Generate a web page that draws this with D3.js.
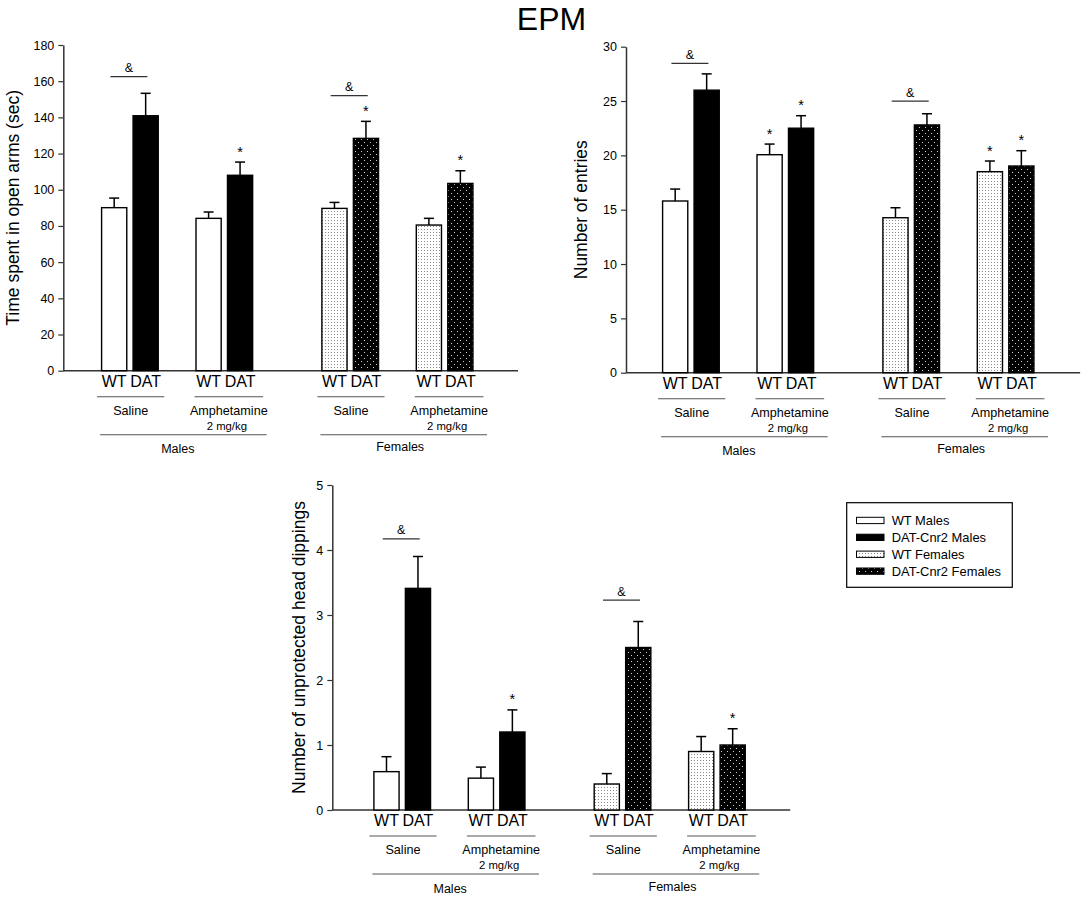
<!DOCTYPE html>
<html><head><meta charset="utf-8">
<script src="https://cdn.jsdelivr.net/npm/d3@7"></script>
<style>
body{margin:0;background:#fff}
svg{display:block}
text{font-family:"Liberation Sans",Arial,Helvetica,sans-serif;fill:#000}
</style>
</head><body>
<svg id="c" width="1084" height="900"></svg>
<script>
// ---------- data ----------
const seriesNames = ["WT Males", "DAT-Cnr2 Males", "WT Females", "DAT-Cnr2 Females"];
const barGenotype = ["WT", "DAT", "WT", "DAT", "WT", "DAT", "WT", "DAT"];
const barSeries = [0, 1, 0, 1, 2, 3, 2, 3];
const treatmentLabels = ["Saline", "Amphetamine", "Saline", "Amphetamine"];
const doseLabels = ["", "2 mg/kg", "", "2 mg/kg"];
const sexLabels = ["Males", "Females"];

const timeMeans = [90.1, 140.9, 84.2, 108.0, 89.7, 128.4, 80.5, 103.5];
const timeErr   = [5.3, 12.4, 3.5, 7.3, 3.3, 9.4, 3.7, 7.0];
const timeStars = [0, 0, 0, 1, 0, 1, 0, 1];
const timeAmp   = [{group: 0, level: 162.5}, {group: 2, level: 152}];
const timeTicks = [0, 20, 40, 60, 80, 100, 120, 140, 160, 180];

const entriesMeans = [15.8, 26.0, 20.06, 22.5, 14.26, 22.8, 18.5, 19.02];
const entriesErr   = [1.1, 1.5, 0.98, 1.15, 0.92, 1.03, 0.98, 1.41];
const entriesStars = [0, 0, 1, 1, 0, 0, 1, 1];
const entriesAmp   = [{group: 0, level: 28.47}, {group: 2, level: 25.0}];
const entriesTicks = [0, 5, 10, 15, 20, 25, 30];

const dipMeans = [0.59, 3.41, 0.49, 1.2, 0.4, 2.5, 0.9, 1.0];
const dipErr   = [0.23, 0.49, 0.17, 0.34, 0.16, 0.4, 0.23, 0.25];
const dipStars = [0, 0, 0, 1, 0, 0, 0, 1];
const dipAmp   = [{group: 0, level: 4.17}, {group: 2, level: 3.23}];
const dipTicks = [0, 1, 2, 3, 4, 5];

// ---------- layout ----------
const PITCH = 31.47;
const charts = [
  {means: timeMeans, errs: timeErr, stars: timeStars, amps: timeAmp, ticks: timeTicks,
   label: "Time spent in open arms (sec)", left: 63.3, top: 45, bottom: 370.7, domMax: 14.45, start: 1.617, labelX: 19},
  {means: entriesMeans, errs: entriesErr, stars: entriesStars, amps: entriesAmp, ticks: entriesTicks,
   label: "Number of entries", left: 626, top: 46.7, bottom: 372.7, domMax: 14.43, start: 1.563, labelX: 586.5},
  {means: dipMeans, errs: dipErr, stars: dipStars, amps: dipAmp, ticks: dipTicks,
   label: "Number of unprotected head dippings", left: 332.3, top: 485, bottom: 810, domMax: 14.55, start: 1.722, labelX: 305}
];

const svg = d3.select("#c");
const defs = svg.append("defs");

// WT females: white with fine grey dots
const p1 = defs.append("pattern").attr("id", "wtf").attr("patternUnits", "userSpaceOnUse")
  .attr("width", 3).attr("height", 3);
p1.append("rect").attr("width", 3).attr("height", 3).attr("fill", "#fff");
p1.append("rect").attr("x", 1).attr("y", 1).attr("width", 1).attr("height", 1).attr("fill", "#8a8a8a");
// DAT females: black with sparse light dots
const p2 = defs.append("pattern").attr("id", "datf").attr("patternUnits", "userSpaceOnUse")
  .attr("width", 6).attr("height", 6);
p2.append("rect").attr("width", 6).attr("height", 6).attr("fill", "#000");
p2.append("rect").attr("x", 1).attr("y", 1).attr("width", 1).attr("height", 1).attr("fill", "#d0d0d0");
p2.append("rect").attr("x", 4).attr("y", 4).attr("width", 1).attr("height", 1).attr("fill", "#d0d0d0");

const fills = ["#fff", "#000", "url(#wtf)", "url(#datf)"];

function slot(i) {
  const g = Math.floor(i / 2), m = i % 2;
  return m + 3 * g + (g >= 2 ? 1 : 0);
}

// title
svg.append("text").attr("x", 551.5).attr("y", 30).attr("text-anchor", "middle")
  .style("font-size", "32px").text("EPM");

charts.forEach(c => {
  const x = d3.scaleLinear().domain([0, c.domMax]).range([c.left, c.left + c.domMax * PITCH]);
  const y = d3.scaleLinear().domain([0, c.ticks[c.ticks.length - 1]]).range([c.bottom, c.top]);
  const y0 = y(0);
  const bw = x(0.8) - x(0);
  const cx = i => x(c.start + slot(i));
  const g = svg.append("g");

  // y axis
  const ax = g.append("g").attr("transform", `translate(${c.left},0)`)
    .call(d3.axisLeft(y).tickValues(c.ticks).tickSize(5).tickSizeOuter(0).tickPadding(4).tickFormat(d3.format("d")));
  ax.select(".domain").attr("stroke", "#333").attr("stroke-width", 1.5);
  ax.selectAll(".tick line").attr("stroke", "#333").attr("stroke-width", 1.2);
  ax.selectAll(".tick text").style("font-size", "12.5px").style("font-family", "'Liberation Sans',Arial,sans-serif").attr("fill", "#111");

  // x axis line
  g.append("line").attr("x1", x(0)).attr("x2", x(c.domMax)).attr("y1", y0).attr("y2", y0)
    .attr("stroke", "#333").attr("stroke-width", 1.5);

  // y label
  g.append("text").attr("transform", `translate(${c.labelX},${(c.top + c.bottom) / 2}) rotate(-90)`)
    .attr("text-anchor", "middle").style("font-size", "17.5px").text(c.label);

  // error bars
  c.means.forEach((v, i) => {
    const xc = cx(i);
    g.append("line").attr("x1", xc).attr("x2", xc).attr("y1", y(v)).attr("y2", y(v + c.errs[i]))
      .attr("stroke", "#000").attr("stroke-width", 1.5);
    g.append("line").attr("x1", xc - 5).attr("x2", xc + 5).attr("y1", y(v + c.errs[i])).attr("y2", y(v + c.errs[i]))
      .attr("stroke", "#000").attr("stroke-width", 1.5);
  });

  // bars
  g.selectAll("rect.bar").data(c.means).enter().append("rect").attr("class", "bar")
    .attr("x", (d, i) => cx(i) - bw / 2).attr("width", bw)
    .attr("y", d => y(d)).attr("height", d => y0 - y(d))
    .attr("fill", (d, i) => fills[barSeries[i]])
    .attr("stroke", "#000").attr("stroke-width", 1.4);

  // stars
  c.means.forEach((v, i) => {
    if (c.stars[i]) {
      g.append("text").attr("x", cx(i)).attr("y", y(v + c.errs[i]) - 5.5).attr("text-anchor", "middle")
        .style("font-size", "14.5px").text("*");
    }
  });

  // & lines
  c.amps.forEach(a => {
    const gc = (cx(a.group * 2) + cx(a.group * 2 + 1)) / 2 - 1;
    const ly = y(a.level);
    g.append("line").attr("x1", gc - 18.5).attr("x2", gc + 18.5).attr("y1", ly).attr("y2", ly)
      .attr("stroke", "#333").attr("stroke-width", 1.3);
    g.append("text").attr("x", gc).attr("y", ly - 4.5).attr("text-anchor", "middle")
      .style("font-size", "12.5px").text("&");
  });

  // genotype labels
  barGenotype.forEach((t, i) => {
    g.append("text").attr("x", cx(i)).attr("y", y0 + 16).attr("text-anchor", "middle")
      .style("font-size", "16px").text(t);
  });

  // treatment groups
  treatmentLabels.forEach((t, k) => {
    const l = cx(2 * k) - bw / 2, r = cx(2 * k + 1) + bw / 2;
    const amph = k % 2 === 1;
    const x1 = amph ? l - 1.5 : l - 4.5, x2 = amph ? r + 10.5 : r + 6;
    const mid = (x1 + x2) / 2;
    g.append("line").attr("x1", x1).attr("x2", x2).attr("y1", y0 + 26).attr("y2", y0 + 26)
      .attr("stroke", "#555").attr("stroke-width", 1.1);
    g.append("text").attr("x", mid).attr("y", y0 + 44.3).attr("text-anchor", "middle")
      .style("font-size", "12.6px").text(t);
    if (doseLabels[k]) {
      g.append("text").attr("x", mid - 2).attr("y", y0 + 58.8).attr("text-anchor", "middle")
        .style("font-size", "11.3px").text(doseLabels[k]);
    }
  });

  // sex groups
  sexLabels.forEach((s, k) => {
    const l = cx(4 * k) - bw / 2 - 1.5, r = cx(4 * k + 3) + bw / 2 + 14;
    g.append("line").attr("x1", l).attr("x2", r).attr("y1", y0 + 64).attr("y2", y0 + 64)
      .attr("stroke", "#555").attr("stroke-width", 1.1);
    g.append("text").attr("x", (l + r) / 2 - (k === 0 ? 5.5 : 3.5)).attr("y", y0 + (k === 0 ? 82.5 : 80.5))
      .attr("text-anchor", "middle").style("font-size", "12.5px").text(s);
  });
});

// legend
const lg = svg.append("g");
lg.append("rect").attr("x", 846.7).attr("y", 502.7).attr("width", 165.6).attr("height", 84.6)
  .attr("fill", "#fff").attr("stroke", "#000").attr("stroke-width", 1.2);
seriesNames.forEach((n, i) => {
  const yy = 517.3 + i * 16.9;
  lg.append("rect").attr("x", 856.5).attr("y", yy).attr("width", 27.5).attr("height", 6.3)
    .attr("fill", fills[i]).attr("stroke", "#000").attr("stroke-width", 1);
  lg.append("text").attr("x", 891.7).attr("y", yy + 7.5).style("font-size", "12.9px").text(n);
});
</script>
</body></html>
